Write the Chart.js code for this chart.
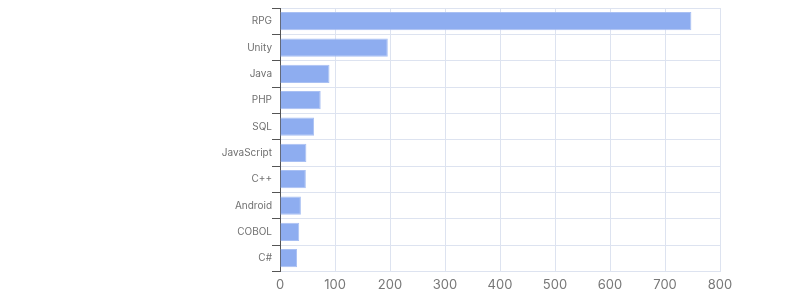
<!DOCTYPE html>
<html>
<head>
<meta charset="utf-8">
<script src="https://cdn.jsdelivr.net/npm/chart.js@4"></script>
<style>
  html, body { margin: 0; padding: 0; background: #fff; }
  #wrap { width: 800px; height: 300px; }
</style>
</head>
<body>
<div id="wrap"><canvas id="chart" width="800" height="300"></canvas></div>
<script>
var categories = ['RPG', 'Unity', 'Java', 'PHP', 'SQL', 'JavaScript', 'C++', 'Android', 'COBOL', 'C#'];
var counts = [748, 196, 90, 74, 62, 48, 47, 38, 35, 31];
var xMin = 0, xMax = 800, xStep = 100;

var ctx = document.getElementById('chart').getContext('2d');

new Chart(ctx, {
    type: 'bar',
    data: {
        labels: categories,
        datasets: [{
            data: counts,
            backgroundColor: '#8eadf0',
            borderColor: '#a9c0f3',
            borderWidth: 1,
            barPercentage: 0.9,
            categoryPercentage: 0.77
        }]
    },
    options: {
        indexAxis: 'y',
        responsive: false,
        maintainAspectRatio: false,
        animation: false,
        layout: { padding: { top: 8, right: 80, left: 0, bottom: 1 } },
        plugins: {
            legend: { display: false },
            tooltip: { enabled: false }
        },
        scales: {
            x: {
                min: xMin,
                max: xMax,
                ticks: {
                    stepSize: xStep,
                    color: '#777',
                    padding: 6,
                    font: { family: 'Inter, sans-serif', size: 13 }
                },
                grid: { color: '#dde3f0', tickLength: 0 },
                border: { color: '#dde3f0' }
            },
            y: {
                afterFit: function (scale) { scale.width = 280; },
                ticks: {
                    color: '#707070',
                    padding: 0,
                    font: { family: 'Inter, sans-serif', size: 10 }
                },
                grid: { color: '#dde3f0', tickColor: '#555', tickLength: 8, offset: true },
                border: { color: '#555' }
            }
        }
    }
});
</script>
</body>
</html>
